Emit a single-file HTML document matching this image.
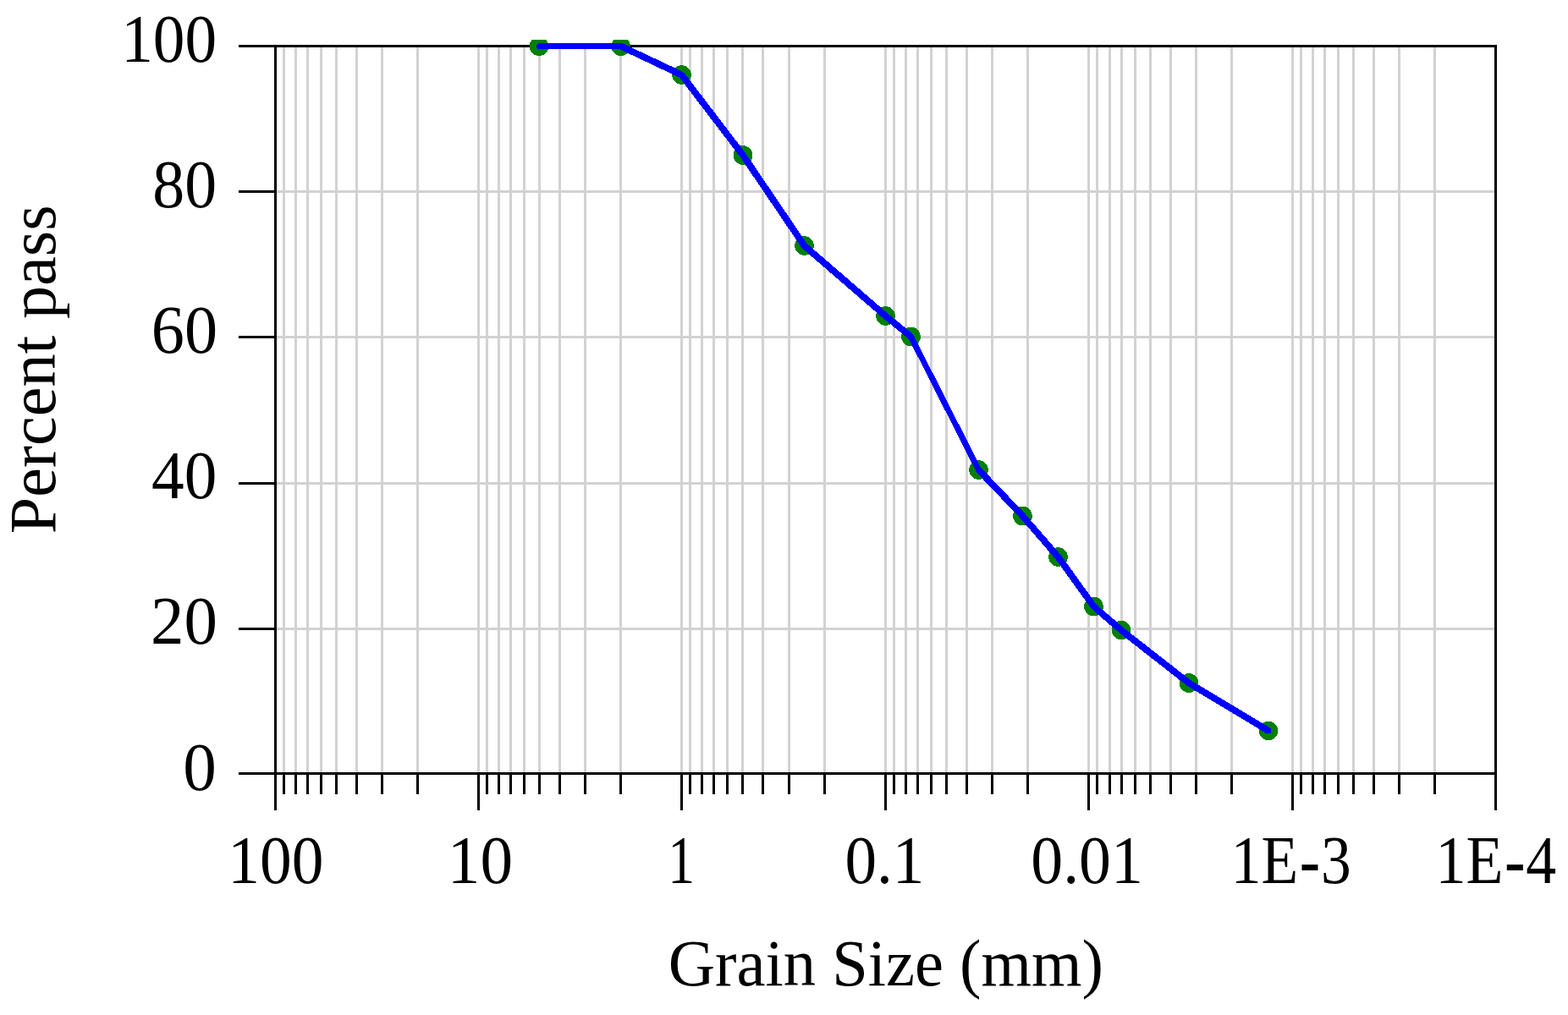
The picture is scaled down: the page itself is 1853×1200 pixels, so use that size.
<!DOCTYPE html>
<html lang="en"><head><meta charset="utf-8"><title>Grain Size Distribution</title>
<style>
html,body{margin:0;padding:0;background:#fff;}
body{width:1853px;height:1200px;overflow:hidden;}
svg{display:block;}
text{font-family:"Liberation Serif",serif;font-size:77px;fill:#000;}
.hy{font-family:"Liberation Sans",sans-serif;font-size:84px;}
</style></head><body>
<svg width="1853" height="1200" viewBox="0 0 1853 1200">
<rect width="1853" height="1200" fill="#fff"/>
<g fill="#d2d2d2" shape-rendering="crispEdges">
<rect x="334" y="56" width="3" height="857"/>
<rect x="348" y="56" width="3" height="857"/>
<rect x="362" y="56" width="3" height="857"/>
<rect x="378" y="56" width="3" height="857"/>
<rect x="396" y="56" width="3" height="857"/>
<rect x="420" y="56" width="3" height="857"/>
<rect x="450" y="56" width="3" height="857"/>
<rect x="492" y="56" width="3" height="857"/>
<rect x="564" y="56" width="3" height="857"/>
<rect x="574" y="56" width="3" height="857"/>
<rect x="588" y="56" width="3" height="857"/>
<rect x="602" y="56" width="3" height="857"/>
<rect x="618" y="56" width="3" height="857"/>
<rect x="636" y="56" width="3" height="857"/>
<rect x="660" y="56" width="3" height="857"/>
<rect x="690" y="56" width="3" height="857"/>
<rect x="732" y="56" width="3" height="857"/>
<rect x="804" y="56" width="3" height="857"/>
<rect x="814" y="56" width="3" height="857"/>
<rect x="828" y="56" width="3" height="857"/>
<rect x="842" y="56" width="3" height="857"/>
<rect x="858" y="56" width="3" height="857"/>
<rect x="876" y="56" width="3" height="857"/>
<rect x="900" y="56" width="3" height="857"/>
<rect x="931" y="56" width="3" height="857"/>
<rect x="973" y="56" width="3" height="857"/>
<rect x="1045" y="56" width="3" height="857"/>
<rect x="1055" y="56" width="3" height="857"/>
<rect x="1069" y="56" width="3" height="857"/>
<rect x="1083" y="56" width="3" height="857"/>
<rect x="1099" y="56" width="3" height="857"/>
<rect x="1117" y="56" width="3" height="857"/>
<rect x="1141" y="56" width="3" height="857"/>
<rect x="1171" y="56" width="3" height="857"/>
<rect x="1213" y="56" width="3" height="857"/>
<rect x="1285" y="56" width="3" height="857"/>
<rect x="1295" y="56" width="3" height="857"/>
<rect x="1310" y="56" width="3" height="857"/>
<rect x="1324" y="56" width="3" height="857"/>
<rect x="1340" y="56" width="3" height="857"/>
<rect x="1358" y="56" width="3" height="857"/>
<rect x="1382" y="56" width="3" height="857"/>
<rect x="1412" y="56" width="3" height="857"/>
<rect x="1454" y="56" width="3" height="857"/>
<rect x="1526" y="56" width="3" height="857"/>
<rect x="1536" y="56" width="3" height="857"/>
<rect x="1550" y="56" width="3" height="857"/>
<rect x="1564" y="56" width="3" height="857"/>
<rect x="1580" y="56" width="3" height="857"/>
<rect x="1598" y="56" width="3" height="857"/>
<rect x="1622" y="56" width="3" height="857"/>
<rect x="1652" y="56" width="3" height="857"/>
<rect x="1694" y="56" width="3" height="857"/>
<rect x="327" y="742" width="1439" height="3"/>
<rect x="327" y="570" width="1439" height="3"/>
<rect x="327" y="397" width="1439" height="3"/>
<rect x="327" y="225" width="1439" height="3"/>
</g>
<g fill="#000" shape-rendering="crispEdges">
<rect x="282" y="53" width="1487" height="3"/>
<rect x="282" y="913" width="1487" height="3"/>
<rect x="324" y="53" width="3" height="905"/>
<rect x="1766" y="53" width="3" height="905"/>
<rect x="282" y="742" width="42" height="3"/>
<rect x="282" y="570" width="42" height="3"/>
<rect x="282" y="397" width="42" height="3"/>
<rect x="282" y="225" width="42" height="3"/>
<rect x="564" y="916" width="3" height="42"/>
<rect x="804" y="916" width="3" height="42"/>
<rect x="1045" y="916" width="3" height="42"/>
<rect x="1285" y="916" width="3" height="42"/>
<rect x="1526" y="916" width="3" height="42"/>
<rect x="334" y="916" width="3" height="23"/>
<rect x="348" y="916" width="3" height="23"/>
<rect x="362" y="916" width="3" height="23"/>
<rect x="378" y="916" width="3" height="23"/>
<rect x="396" y="916" width="3" height="23"/>
<rect x="420" y="916" width="3" height="23"/>
<rect x="450" y="916" width="3" height="23"/>
<rect x="492" y="916" width="3" height="23"/>
<rect x="574" y="916" width="3" height="23"/>
<rect x="588" y="916" width="3" height="23"/>
<rect x="602" y="916" width="3" height="23"/>
<rect x="618" y="916" width="3" height="23"/>
<rect x="636" y="916" width="3" height="23"/>
<rect x="660" y="916" width="3" height="23"/>
<rect x="690" y="916" width="3" height="23"/>
<rect x="732" y="916" width="3" height="23"/>
<rect x="814" y="916" width="3" height="23"/>
<rect x="828" y="916" width="3" height="23"/>
<rect x="842" y="916" width="3" height="23"/>
<rect x="858" y="916" width="3" height="23"/>
<rect x="876" y="916" width="3" height="23"/>
<rect x="900" y="916" width="3" height="23"/>
<rect x="931" y="916" width="3" height="23"/>
<rect x="973" y="916" width="3" height="23"/>
<rect x="1055" y="916" width="3" height="23"/>
<rect x="1069" y="916" width="3" height="23"/>
<rect x="1083" y="916" width="3" height="23"/>
<rect x="1099" y="916" width="3" height="23"/>
<rect x="1117" y="916" width="3" height="23"/>
<rect x="1141" y="916" width="3" height="23"/>
<rect x="1171" y="916" width="3" height="23"/>
<rect x="1213" y="916" width="3" height="23"/>
<rect x="1295" y="916" width="3" height="23"/>
<rect x="1310" y="916" width="3" height="23"/>
<rect x="1324" y="916" width="3" height="23"/>
<rect x="1340" y="916" width="3" height="23"/>
<rect x="1358" y="916" width="3" height="23"/>
<rect x="1382" y="916" width="3" height="23"/>
<rect x="1412" y="916" width="3" height="23"/>
<rect x="1454" y="916" width="3" height="23"/>
<rect x="1536" y="916" width="3" height="23"/>
<rect x="1550" y="916" width="3" height="23"/>
<rect x="1564" y="916" width="3" height="23"/>
<rect x="1580" y="916" width="3" height="23"/>
<rect x="1598" y="916" width="3" height="23"/>
<rect x="1622" y="916" width="3" height="23"/>
<rect x="1652" y="916" width="3" height="23"/>
<rect x="1694" y="916" width="3" height="23"/>
</g>
<defs><clipPath id="cp"><rect x="300" y="47" width="1500" height="900"/></clipPath></defs>
<g fill="#008000" clip-path="url(#cp)" shape-rendering="crispEdges">
<circle cx="637" cy="54.75" r="11.3"/>
<circle cx="733.75" cy="54.75" r="11.3"/>
<circle cx="805.5" cy="88.5" r="11.3"/>
<circle cx="878" cy="183.5" r="11.3"/>
<circle cx="950.5" cy="290.5" r="11.3"/>
<circle cx="1046.5" cy="373.5" r="11.3"/>
<circle cx="1076.5" cy="398" r="11.3"/>
<circle cx="1156.5" cy="555.5" r="11.3"/>
<circle cx="1208.5" cy="610" r="11.3"/>
<circle cx="1250.5" cy="658.5" r="11.3"/>
<circle cx="1292.5" cy="717" r="11.3"/>
<circle cx="1325" cy="745" r="11.3"/>
<circle cx="1405" cy="807.5" r="11.3"/>
<circle cx="1499" cy="864" r="11.3"/>
</g>
<g fill="none" stroke="#0000ff" stroke-linecap="butt" shape-rendering="crispEdges">
<line x1="637.5" y1="54.5" x2="733.5" y2="54.5" stroke-width="7"/>
<line x1="733.5" y1="54.5" x2="805.5" y2="88.5" stroke-width="7.9"/>
<line x1="805.5" y1="88.5" x2="878" y2="183.5" stroke-width="7.9"/>
<line x1="878" y1="183.5" x2="950.5" y2="290.5" stroke-width="7.9"/>
<line x1="950.5" y1="290.5" x2="1046.5" y2="373.5" stroke-width="7.9"/>
<line x1="1046.5" y1="373.5" x2="1076.5" y2="398" stroke-width="7.9"/>
<line x1="1076.5" y1="398" x2="1156.5" y2="555.5" stroke-width="7"/>
<line x1="1156.5" y1="555.5" x2="1208.5" y2="610" stroke-width="7.9"/>
<line x1="1208.5" y1="610" x2="1250.5" y2="658.5" stroke-width="7.9"/>
<line x1="1250.5" y1="658.5" x2="1292.5" y2="717" stroke-width="7.9"/>
<line x1="1292.5" y1="717" x2="1325" y2="745" stroke-width="7.9"/>
<line x1="1325" y1="745" x2="1405" y2="807.5" stroke-width="7.9"/>
<line x1="1405" y1="807.5" x2="1499" y2="864" stroke-width="7.9"/>
</g>
<g fill="#0000ff" shape-rendering="crispEdges">
<circle cx="637.5" cy="54.5" r="3.5"/>
<circle cx="733.5" cy="54.5" r="3.5"/>
<circle cx="805.5" cy="88.5" r="3.5"/>
<circle cx="878" cy="183.5" r="3.5"/>
<circle cx="950.5" cy="290.5" r="3.5"/>
<circle cx="1046.5" cy="373.5" r="3.5"/>
<circle cx="1076.5" cy="398" r="3.5"/>
<circle cx="1156.5" cy="555.5" r="3.5"/>
<circle cx="1208.5" cy="610" r="3.5"/>
<circle cx="1250.5" cy="658.5" r="3.5"/>
<circle cx="1292.5" cy="717" r="3.5"/>
<circle cx="1325" cy="745" r="3.5"/>
<circle cx="1405" cy="807.5" r="3.5"/>
<circle cx="1499" cy="864" r="3.5"/>
</g>
<text transform="translate(143.15 73.30) scale(0.9786 1.033)" text-anchor="start">100</text>
<text transform="translate(180.25 245.20) scale(0.9845 1.033)" text-anchor="start">80</text>
<text transform="translate(178.73 416.60) scale(1.0172 1.033)" text-anchor="start">60</text>
<text transform="translate(178.99 589.25) scale(1.0043 1.033)" text-anchor="start">40</text>
<text transform="translate(177.92 761.00) scale(1.0254 1.033)" text-anchor="start">20</text>
<text transform="translate(216.32 933.50) scale(1.0276 1.033)" text-anchor="start">0</text>
<text transform="translate(269.34 1043.80) scale(0.9792 1.033)" text-anchor="start">100</text>
<text transform="translate(528.78 1043.80) scale(1.0031 1.033)" text-anchor="start">10</text>
<text transform="translate(789.21 1044.35) scale(0.8259 1.033)" text-anchor="start">1</text>
<text transform="translate(998.45 1043.90) scale(0.9765 1.033)" text-anchor="start">0.1</text>
<text transform="translate(1218.24 1043.90) scale(0.9843 1.033)" text-anchor="start">0.01</text>
<text transform="translate(1454.86 1043.90) scale(0.9273 1.033)" text-anchor="start">1E<tspan class="hy" dx="1" dy="4.6">-</tspan><tspan dy="-4.6">3</tspan></text>
<text transform="translate(1696.47 1044.40) scale(0.933 1.033)" text-anchor="start">1E<tspan class="hy" dx="1" dy="4.6">-</tspan><tspan dy="-4.6">4</tspan></text>
<text transform="translate(789.82 1165.20) scale(0.9939 1.015)" text-anchor="start">Grain Size (mm)</text>
<text transform="translate(65.00 436.80) rotate(-90) scale(1.016 1.025)" text-anchor="middle">Percent pass</text>
</svg></body></html>
